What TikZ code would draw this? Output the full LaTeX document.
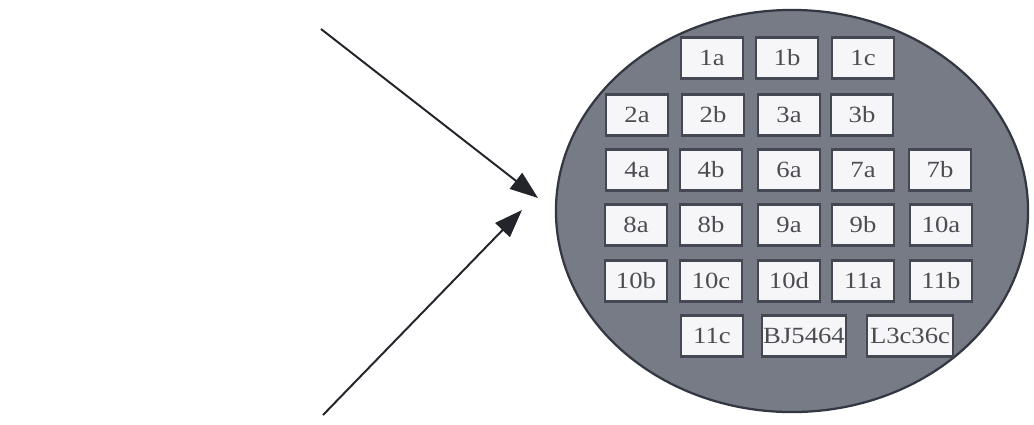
\documentclass[tikz,border=0pt]{standalone}
\usepackage{fontspec}
\setmainfont{Liberation Serif}
\usepackage{graphicx}
\usetikzlibrary{arrows.meta,shapes.geometric}
\definecolor{waferfill}{RGB}{118,123,133}
\definecolor{waferedge}{RGB}{50,55,65}
\definecolor{chipedge}{RGB}{68,72,82}
\definecolor{chipfill}{RGB}{246,246,248}
\definecolor{chiptext}{RGB}{75,77,83}
\definecolor{arrowcol}{RGB}{35,37,43}
\newcommand{\chiptext}[1]{\scalebox{1.15}[1]{#1}}

\begin{document}
\begin{tikzpicture}[
    x=0.025cm, y=-0.025cm,
    font=\fontsize{16.5}{18}\selectfont,
    wafer/.style = {draw=waferedge, line width=1.6pt, fill=waferfill, ellipse,
                    minimum width=11.8cm, minimum height=10.05cm, inner sep=0pt},
    chip/.style  = {draw=chipedge, line width=1.8pt, fill=chipfill, inner sep=0pt,
                    minimum width=1.55cm, minimum height=1.03cm, text=chiptext},
    ar/.style    = {-{Triangle[length=7mm,width=5mm]}, line width=1.4pt, draw=arrowcol,
                    fill=arrowcol},
]
\useasboundingbox (0,0) rectangle (1034,424);

% ---------------- wafer ----------------
\node[wafer] (wafer) at (792,211) {};

% ---------------- chips ----------------
\foreach \name/\xx/\yy in {1a/712/58, 1b/787/58, 1c/863/58,
    2a/637/115, 2b/713/115, 3a/789/115, 3b/862/115,
    4a/637/170, 4b/711/170, 6a/789/170, 7a/863/170, 7b/940/170,
    8a/636/225, 8b/711/225, 9a/789/225, 9b/863/225, 10a/941/225,
    10b/636/281, 10c/711/281, 10d/789/281, 11a/863/281, 11b/941/281,
    11c/712/336}
  \node[chip] (c\name) at (\xx,\yy) {\chiptext{\name}};
\node[chip, minimum width=2.1cm] (cBJ) at (804,336) {\chiptext{BJ5464}};
\node[chip, minimum width=2.15cm] (cL3) at (910,336) {\chiptext{L3c36c}};

% ---------------- arrows ----------------
\coordinate (srcup) at (321,29);
\coordinate (tipup) at (538,198);
\coordinate (srclow) at (323,415);
\coordinate (tiplow) at (522,210);
\draw[ar] (srcup) -- (tipup);
\draw[ar] (srclow) -- (tiplow);

\end{tikzpicture}
\end{document}
